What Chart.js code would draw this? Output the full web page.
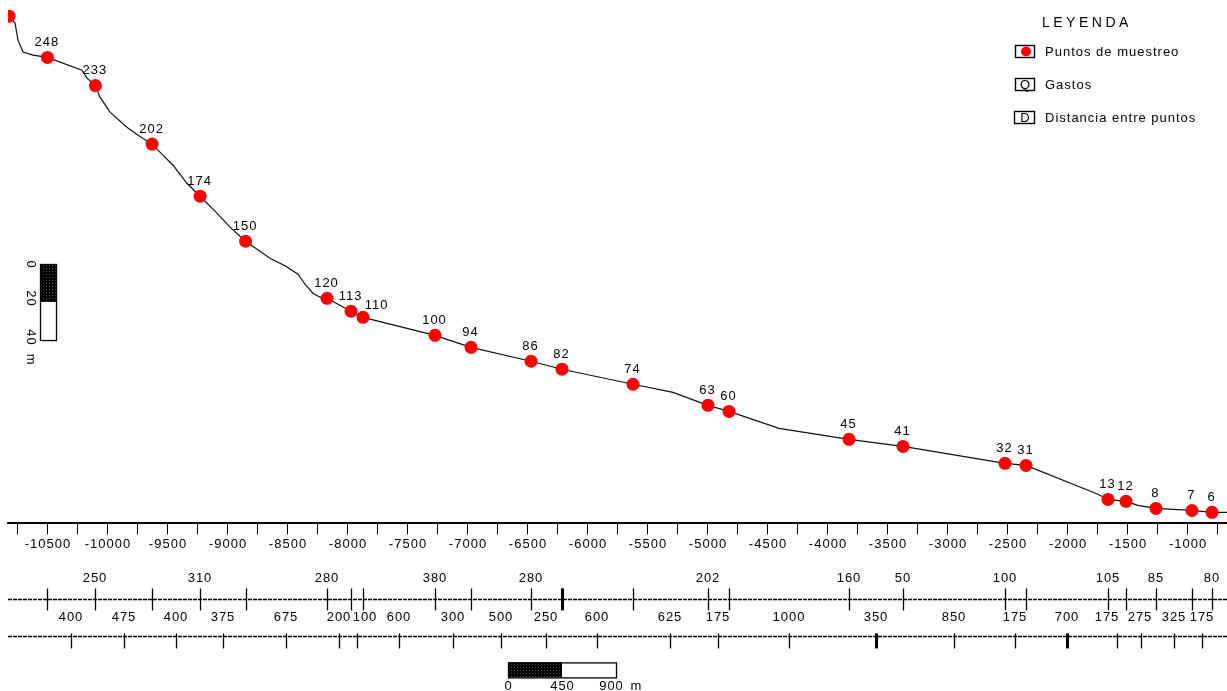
<!DOCTYPE html>
<html><head><meta charset="utf-8">
<script src="https://cdn.jsdelivr.net/npm/chart.js@4/dist/chart.umd.min.js"></script>
<style>html,body{margin:0;padding:0;background:#fff;overflow:hidden}#wrap{width:1227px;height:691px}</style>
</head><body><div id="wrap"><canvas id="c" width="1227" height="691"></canvas></div>
<script>
// ---- DATA ----
// River profile trace: distance along channel (m) and relative elevation (m)
const profileX = [-10825,-10775,-10750,-10708,-10625,-10505,-10217,-10175,-10105,-10067,-9983,-9842,-9750,-9633,-9542,-9458,-9342,-9233,-9092,-8983,-8854,-8650,-8517,-8417,-8358,-8292,-8233,-8175,-7975,-7875,-7275,-6975,-6475,-6217,-5625,-5292,-5000,-4825,-4408,-3825,-3375,-2525,-2350,-1750,-1667,-1517,-1417,-1267,-967,-800,-675];
const profileY = [266.8,263.2,254.2,247.9,246.3,245.1,238.4,234.2,230.3,224.2,216.3,208.4,204.2,199.5,193.7,188.4,178.9,172.1,163.2,155.8,148.4,139.5,135.3,131.1,125.8,121.1,119.0,118.4,111.6,108.4,98.9,92.6,85.3,81.1,73.2,68.9,62.1,58.9,50.0,44.2,40.5,31.6,30.5,15.3,12.6,11.6,9.5,7.9,6.8,5.8,5.8];

// Sampling points (Puntos de muestreo)
const sampleNames = ['248','233','202','174','150','120','113','110','100','94','86','82','74','63','60','45','41','32','31','13','12','8','7','6'];
const sampleX = [-10505,-10105,-9633,-9233,-8854,-8175,-7975,-7875,-7275,-6975,-6475,-6217,-5625,-5000,-4825,-3825,-3375,-2525,-2350,-1667,-1517,-1267,-967,-800];
const sampleY = [245.1,230.3,199.5,172.1,148.4,118.4,111.6,108.4,98.9,92.6,85.3,81.1,73.2,62.1,58.9,44.2,40.5,31.6,30.5,12.6,11.6,7.9,6.8,5.8];
// upstream point at the edge (label out of view)
const headX = [-10825];
const headY = [266.8];

// Gastos (Q) at each sampling point
const gastos = [null,'250',null,'310',null,'280',null,null,'380',null,'280',null,null,'202',null,'160','50','100',null,'105',null,'85',null,'80'];
// Distancia entre puntos (D), between consecutive sampling points
const distancias = ['400','475','400','375','675','200','100','600','300','500','250','600','625','175','1000','350','850','175','700','175','275','325','175'];

// x-axis ticks (every 250 m, labelled every 500 m)
const xTicks = [-10750,-10500,-10250,-10000,-9750,-9500,-9250,-9000,-8750,-8500,-8250,-8000,-7750,-7500,-7250,-7000,-6750,-6500,-6250,-6000,-5750,-5500,-5250,-5000,-4750,-4500,-4250,-4000,-3750,-3500,-3250,-3000,-2750,-2500,-2250,-2000,-1750,-1500,-1250,-1000,-750];

// scale bars
const hBarTicks = [0, 450, 900];
const vBarTicks = [0, 20, 40];

// ---- STYLE / LAYOUT ----
const FONT = '"Liberation Sans", Arial, sans-serif';
const FS = 13;
const LS = 1.0;
const boldQ = [11];
const boldD = [15, 18];
const labelNudge = { '110': [14, 3] };
const dNudge = { 6: [8, 0], 19: [-10, 0], 20: [-1, 0] };

function darkPattern(ctx){
  const c = document.createElement('canvas'); c.width = 3; c.height = 3;
  const g = c.getContext('2d');
  g.fillStyle = '#000'; g.fillRect(0,0,3,3);
  g.fillStyle = '#4a4a4a'; g.fillRect(1,1,1,1);
  return ctx.createPattern(c, 'repeat');
}
function txt(ctx, s, x, y, align, size, ls){
  size = size || FS; ls = (ls === undefined) ? LS : ls;
  ctx.font = size + 'px ' + FONT;
  ctx.letterSpacing = ls + 'px';
  ctx.textAlign = align || 'center';
  ctx.textBaseline = 'middle';
  ctx.fillStyle = '#000';
  ctx.fillText(s, x + ((align || 'center') === 'center' ? ls/2 : 0), y);
}
function vline(ctx, x, y1, y2, w){
  ctx.beginPath(); ctx.lineWidth = w; ctx.strokeStyle = '#000';
  ctx.moveTo(x, y1); ctx.lineTo(x, y2); ctx.stroke();
}
function dashed(ctx, x1, x2, y){
  ctx.save(); ctx.setLineDash([4,1]); ctx.lineWidth = 1.5; ctx.strokeStyle = '#000';
  ctx.beginPath(); ctx.moveTo(x1, y); ctx.lineTo(x2, y); ctx.stroke(); ctx.restore();
}

const annot = {
  id: 'annot',
  beforeDraw(chart){ chart.ctx.letterSpacing = LS + 'px'; },
  afterDraw(chart){
    const ctx = chart.ctx, xs = chart.scales.x, ys = chart.scales.y, ca = chart.chartArea;
    const base = ca.bottom;
    ctx.save();
    // point labels
    sampleNames.forEach((n, i) => {
      const nd = labelNudge[n] || [0,0];
      txt(ctx, n, xs.getPixelForValue(sampleX[i]) - 1 + nd[0], ys.getPixelForValue(sampleY[i]) - 15 + nd[1]);
    });
    // Q row
    const qLine = base + 76;
    dashed(ctx, ca.left, ca.right, qLine);
    sampleX.forEach((v, i) => {
      const px = Math.round(xs.getPixelForValue(v)) + 0.5;
      vline(ctx, px, qLine - 11, qLine + 11, boldQ.includes(i) ? 3 : 1.3);
      if (gastos[i]) txt(ctx, gastos[i], px - 1, base + 55);
    });
    // D row
    const dLine = base + 113;
    dashed(ctx, ca.left, ca.right, dLine);
    distancias.forEach((d, i) => {
      const mid = (sampleX[i] + sampleX[i+1]) / 2;
      const px = Math.round(xs.getPixelForValue(mid)) + 0.5;
      vline(ctx, px, dLine - 3, dLine + 12, boldD.includes(i) ? 3 : 1.3);
      const nd = dNudge[i] || [0,0];
      txt(ctx, d, px - 1 + nd[0], base + 94);
    });
    // horizontal scale bar (0-450-900 m)
    const pat = darkPattern(ctx);
    const hx0 = 508, hy0 = base + 139, hh = 15;
    const hw = xs.getPixelForValue(xs.min + hBarTicks[2]) - xs.getPixelForValue(xs.min);
    const hmid = xs.getPixelForValue(xs.min + hBarTicks[1]) - xs.getPixelForValue(xs.min);
    ctx.fillStyle = pat; ctx.fillRect(hx0, hy0, hmid, hh);
    ctx.fillStyle = '#fff'; ctx.fillRect(hx0 + hmid, hy0, hw - hmid, hh);
    ctx.lineWidth = 1.3; ctx.strokeStyle = '#000'; ctx.strokeRect(hx0 + 0.5, hy0 + 0.5, hw, hh);
    txt(ctx, String(hBarTicks[0]), hx0, hy0 + 24);
    txt(ctx, String(hBarTicks[1]), hx0 + hmid, hy0 + 24);
    txt(ctx, String(hBarTicks[2]), hx0 + hw - 5, hy0 + 24);
    txt(ctx, 'm', hx0 + hw + 20, hy0 + 24);
    // vertical scale bar (0-20-40 m)
    const vx0 = 40, vy0 = 264, vw = 16;
    const vh = ys.getPixelForValue(0) - ys.getPixelForValue(vBarTicks[2]);
    const vmid = ys.getPixelForValue(0) - ys.getPixelForValue(vBarTicks[1]);
    ctx.fillStyle = pat; ctx.fillRect(vx0, vy0, vw, vmid);
    ctx.fillStyle = '#fff'; ctx.fillRect(vx0, vy0 + vmid, vw, vh - vmid);
    ctx.strokeRect(vx0 + 0.5, vy0 + 0.5, vw, vh);
    const vlab = [[String(vBarTicks[0]), vy0], [String(vBarTicks[1]), vy0 + vmid - 4], [String(vBarTicks[2]), vy0 + vh - 3]];
    vlab.forEach(([s, y]) => {
      ctx.save(); ctx.translate(31, y); ctx.rotate(Math.PI/2); txt(ctx, s, 0, 0); ctx.restore();
    });
    ctx.save(); ctx.translate(31, vy0 + vh + 19); ctx.rotate(Math.PI/2); txt(ctx, 'm', 0, 0); ctx.restore();
    // legend
    txt(ctx, 'LEYENDA', 1042, 23, 'left', 14, 3.5);
    ctx.lineWidth = 1.4; ctx.strokeStyle = '#000';
    ctx.strokeRect(1015.5, 45.5, 19, 12);
    ctx.beginPath(); ctx.fillStyle = '#ff0000'; ctx.arc(1026, 51.5, 5, 0, Math.PI*2); ctx.fill();
    txt(ctx, 'Puntos de muestreo', 1045, 52, 'left');
    ctx.strokeRect(1015.5, 78.5, 19, 12);
    txt(ctx, 'Q', 1025, 85);
    txt(ctx, 'Gastos', 1045, 85, 'left');
    ctx.strokeRect(1014.5, 111.5, 20, 12);
    txt(ctx, 'D', 1025, 118);
    txt(ctx, 'Distancia entre puntos', 1045, 118, 'left');
    ctx.restore();
  }
};

new Chart(document.getElementById('c').getContext('2d'), {
  type: 'scatter',
  data: { datasets: [
    { label: 'Perfil', data: profileX.map((x, i) => ({x, y: profileY[i]})), showLine: true,
      borderColor: '#111', borderWidth: 1.2, pointRadius: 0, tension: 0, fill: false, clip: 0, order: 3 },
    { label: 'Puntos de muestreo', data: sampleX.map((x, i) => ({x, y: sampleY[i]})),
      pointRadius: 6.5, backgroundColor: '#ff0000', borderColor: '#ff0000', borderWidth: 0, clip: 0, order: 1 },
    { label: 'inicio', data: headX.map((x, i) => ({x, y: headY[i]})),
      pointRadius: 6.5, backgroundColor: '#ff0000', borderColor: '#ff0000', borderWidth: 0, clip: 0, order: 2 }
  ]},
  options: {
    responsive: false, animation: false, devicePixelRatio: 1,
    layout: { autoPadding: false, padding: { left: 8, right: 0, top: 0, bottom: 137 } },
    plugins: { legend: { display: false }, tooltip: { enabled: false } },
    scales: {
      x: { type: 'linear', min: -10833.3, max: -675,
        afterBuildTicks: s => { s.ticks = xTicks.map(v => ({ value: v })); },
        ticks: { autoSkip: false, maxRotation: 0, color: '#000', padding: 2,
          font: { family: FONT, size: FS },
          callback: v => (v % 500 === 0 ? String(v) : '') },
        grid: { drawOnChartArea: false, drawTicks: true, tickLength: 11, color: '#000', tickColor: '#000', lineWidth: 1 },
        border: { display: true, color: '#000', width: 2 } },
      y: { type: 'linear', min: 0, max: 275.3, display: false }
    }
  },
  plugins: [annot]
});
</script></body></html>
